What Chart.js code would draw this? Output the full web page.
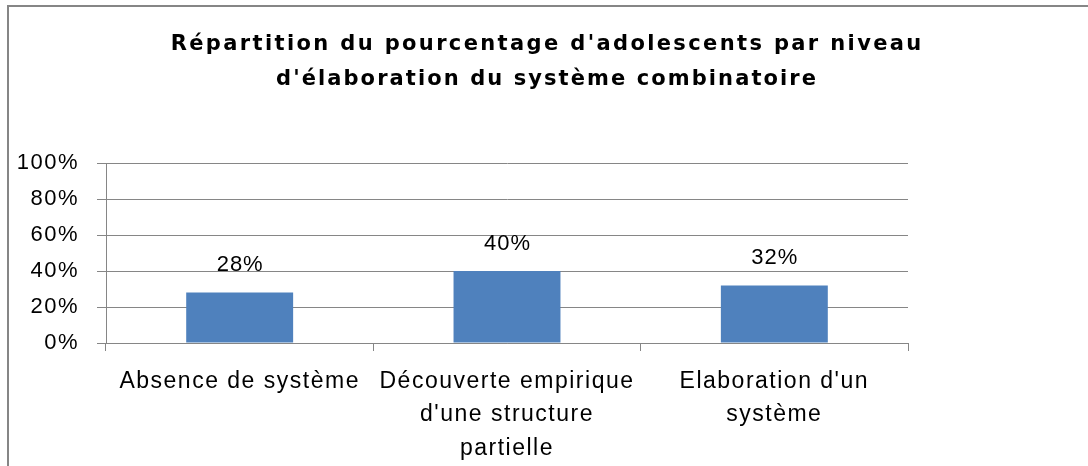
<!DOCTYPE html>
<html><head><meta charset="utf-8">
<script src="https://cdn.jsdelivr.net/npm/chart.js@4"></script>
<style>html,body{margin:0;padding:0;background:#fff;overflow:hidden}canvas{display:block}</style>
</head><body>
<canvas id="c" width="1088" height="466"></canvas>
<script>
const titleLines = ["Répartition du pourcentage d'adolescents par niveau", "d'élaboration du système combinatoire"];
const categories = [["Absence de système"], ["Découverte empirique", "d'une structure", "partielle"], ["Elaboration d'un", "système"]];
const percentages = [28, 40, 32];
const yTicks = [0, 20, 40, 60, 80, 100];

const FONT = '"Liberation Sans", Arial, sans-serif';
const TITLE_FONT = 'bold 21px "DejaVu Sans", sans-serif';
const TITLE_WIDTHS = [753, 542];
const GRID = '#868686';
const AXIS_SPACING = '1.5px';

const custom = {
  id: 'custom',
  beforeUpdate(c) { c.ctx.letterSpacing = AXIS_SPACING; },
  beforeLayout(c) { c.ctx.letterSpacing = AXIS_SPACING; },
  beforeDraw(c) {
    const ctx = c.ctx;
    ctx.save();
    ctx.fillStyle = '#fff';
    ctx.fillRect(0, 0, c.width, c.height);
    ctx.strokeStyle = GRID;
    ctx.lineWidth = 2;
    ctx.beginPath();
    ctx.moveTo(8, c.height + 5);
    ctx.lineTo(8, 6);
    ctx.lineTo(c.width + 5, 6);
    ctx.stroke();
    ctx.restore();
    ctx.letterSpacing = AXIS_SPACING;
  },
  afterDatasetsDraw(c) {
    const ctx = c.ctx;
    const meta = c.getDatasetMeta(0);
    ctx.save();
    ctx.letterSpacing = '1px';
    ctx.font = '22px ' + FONT;
    ctx.fillStyle = '#000';
    ctx.textAlign = 'center';
    ctx.textBaseline = 'middle';
    meta.data.forEach((el, i) => {
      ctx.fillText(percentages[i] + '%', el.x + 0.5, el.y - 27.5);
    });
    ctx.restore();
  },
  afterDraw(c) {
    const ctx = c.ctx;
    ctx.save();
    ctx.font = TITLE_FONT;
    ctx.fillStyle = '#000';
    ctx.textAlign = 'center';
    ctx.textBaseline = 'alphabetic';
    const baselines = [50, 85];
    titleLines.forEach((line, i) => {
      ctx.letterSpacing = '0px';
      const w = ctx.measureText(line).width;
      const s = Math.max(0, (TITLE_WIDTHS[i] - w) / line.length);
      ctx.letterSpacing = s + 'px';
      ctx.fillText(line, 546 + s / 2, baselines[i]);
    });
    ctx.restore();
    ctx.letterSpacing = AXIS_SPACING;
  }
};

new Chart(document.getElementById('c'), {
  type: 'bar',
  data: {
    labels: categories,
    datasets: [{
      data: percentages,
      backgroundColor: '#4F81BD',
      borderWidth: 0,
      categoryPercentage: 1,
      barPercentage: 0.4
    }]
  },
  options: {
    responsive: false,
    animation: false,
    layout: { padding: { left: 0, right: 180, top: 163, bottom: 0 } },
    plugins: { legend: { display: false }, tooltip: { enabled: false }, title: { display: false } },
    scales: {
      x: {
        offset: true,
        grid: { display: true, drawOnChartArea: false, drawTicks: true, tickLength: 8, color: GRID, offset: true },
        border: { display: true, color: GRID, width: 1 },
        ticks: { color: '#000', font: { family: FONT, size: 23, lineHeight: 1.45 }, padding: 14, maxRotation: 0, autoSkip: false },
        afterFit(s) { s.height = 123; }
      },
      y: {
        min: 0, max: 100,
        grid: { color: GRID, tickLength: 9 },
        border: { display: true, color: GRID, width: 1 },
        afterBuildTicks(s) { s.ticks = yTicks.map(v => ({ value: v })); },
        ticks: { color: '#000', font: { family: FONT, size: 22 }, padding: 18, callback: v => v + '%' },
        afterFit(s) { s.width = 106; }
      }
    }
  },
  plugins: [custom]
});
</script>
</body></html>
